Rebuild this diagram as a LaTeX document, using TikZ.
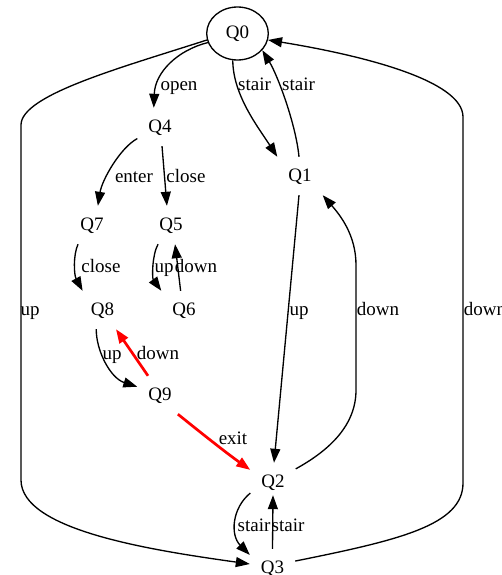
\documentclass[tikz,border=0pt]{standalone}
\usepackage{fontspec}
\setmainfont{Liberation Serif}
\usetikzlibrary{arrows.meta,shapes.geometric}
\begin{document}
\begin{tikzpicture}[x=1pt,y=-1pt,
  txt/.style={font=\fontsize{19}{22}\selectfont,text height=11pt,text depth=0pt},
  state/.style={txt,shape=rectangle,minimum width=45pt,minimum height=38pt,inner sep=0pt},
  initial/.style={txt,shape=ellipse,draw,line width=1.33pt,minimum width=61.6pt,minimum height=53pt,inner sep=0pt},
  edge/.style={line width=1.33pt,-{Triangle[length=14pt,width=10pt]}},
  hot/.style={edge,red,line width=2.7pt},
  lbl/.style={txt,inner sep=0pt}]
\useasboundingbox (0,0) rectangle (501,575);

% states
\node[initial] (Q0) at (237.5,33.5) {Q0};
\node[state] (Q4) at (160,127) {Q4};
\node[state] (Q1) at (300,176) {Q1};
\node[state] (Q7) at (92,225) {Q7};
\node[state] (Q5) at (171,225) {Q5};
\node[state] (Q8) at (102.5,310) {Q8};
\node[state] (Q6) at (184,310) {Q6};
\node[state] (Q9) at (160,395) {Q9};
\node[state] (Q2) at (273,482) {Q2};
\node[state] (Q3) at (272.5,568) {Q3};

% transitions
\draw[edge] (Q0.197) .. controls (178,50) and (155,72) .. (Q4.108);
\draw[edge] (Q0.260) .. controls (233,95) and (258,127) .. (Q1.north west);
\draw[edge] (Q1.93) .. controls (296,125) and (278,76) .. (Q0.-34);
\draw[edge] (Q4.207) .. controls (120,148) and (102,180) .. (Q7.73);
\draw[edge] (Q4.-84) -- (Q5.102);
\draw[edge] (Q7.234) .. controls (73,255) and (74,275) .. (Q8.136);
\draw[edge] (Q5.236) .. controls (152,255) and (152,278) .. (Q6.north west);
\draw[edge] (Q6.100) -- (Q5.-78);
\draw[edge] (Q8.-108) .. controls (96,350) and (110,378) .. (Q9.160);
\draw[hot] (Q9.122) -- (Q8.-55);
\draw[hot] (Q9.-47) .. controls (195,428) and (225,452) .. (Q2.152);
\draw[edge] (Q1.-93) -- (Q2.87);
\draw[edge] (Q2.30) .. controls (330,450) and (356,425) .. (356,390) -- (356,265)
  .. controls (356,235) and (340,215) .. (Q1.south east);
\draw[edge] (Q2.206) .. controls (232,508) and (230,535) .. (Q3.150);
\draw[edge] (Q3.north) -- ([yshift=6pt]Q2.south);
\draw[edge] (Q0.192) .. controls (120,68) and (21,95) .. (21,125) -- (21,480)
  .. controls (21,530) and (150,550) .. (Q3.170);
\draw[edge] (Q3.17) .. controls (400,540) and (463,525) .. (463,483) -- (463,117)
  .. controls (463,80) and (360,55) .. (Q0.-12);

% transition labels
\node[lbl] (l1) at (179,85) {open};
\node[lbl] (l2) at (254.5,85) {stair};
\node[lbl] (l3) at (298.5,85) {stair};
\node[lbl] (l4) at (134,177) {enter};
\node[lbl] (l5) at (186,177) {close};
\node[lbl] (l6) at (101,267) {close};
\node[lbl] (l7) at (164,267) {up};
\node[lbl] (l8) at (196,267) {down};
\node[lbl] (l9) at (30,310) {up};
\node[lbl] (l10) at (299,310) {up};
\node[lbl] (l11) at (378,310) {down};
\node[lbl] (l12) at (485,310) {down};
\node[lbl] (l13) at (112,354) {up};
\node[lbl] (l14) at (158,354) {down};
\node[lbl] (l15) at (233,439) {exit};
\node[lbl] (l16) at (254,526) {stair};
\node[lbl] (l17) at (288,526) {stair};
\end{tikzpicture}
\end{document}
